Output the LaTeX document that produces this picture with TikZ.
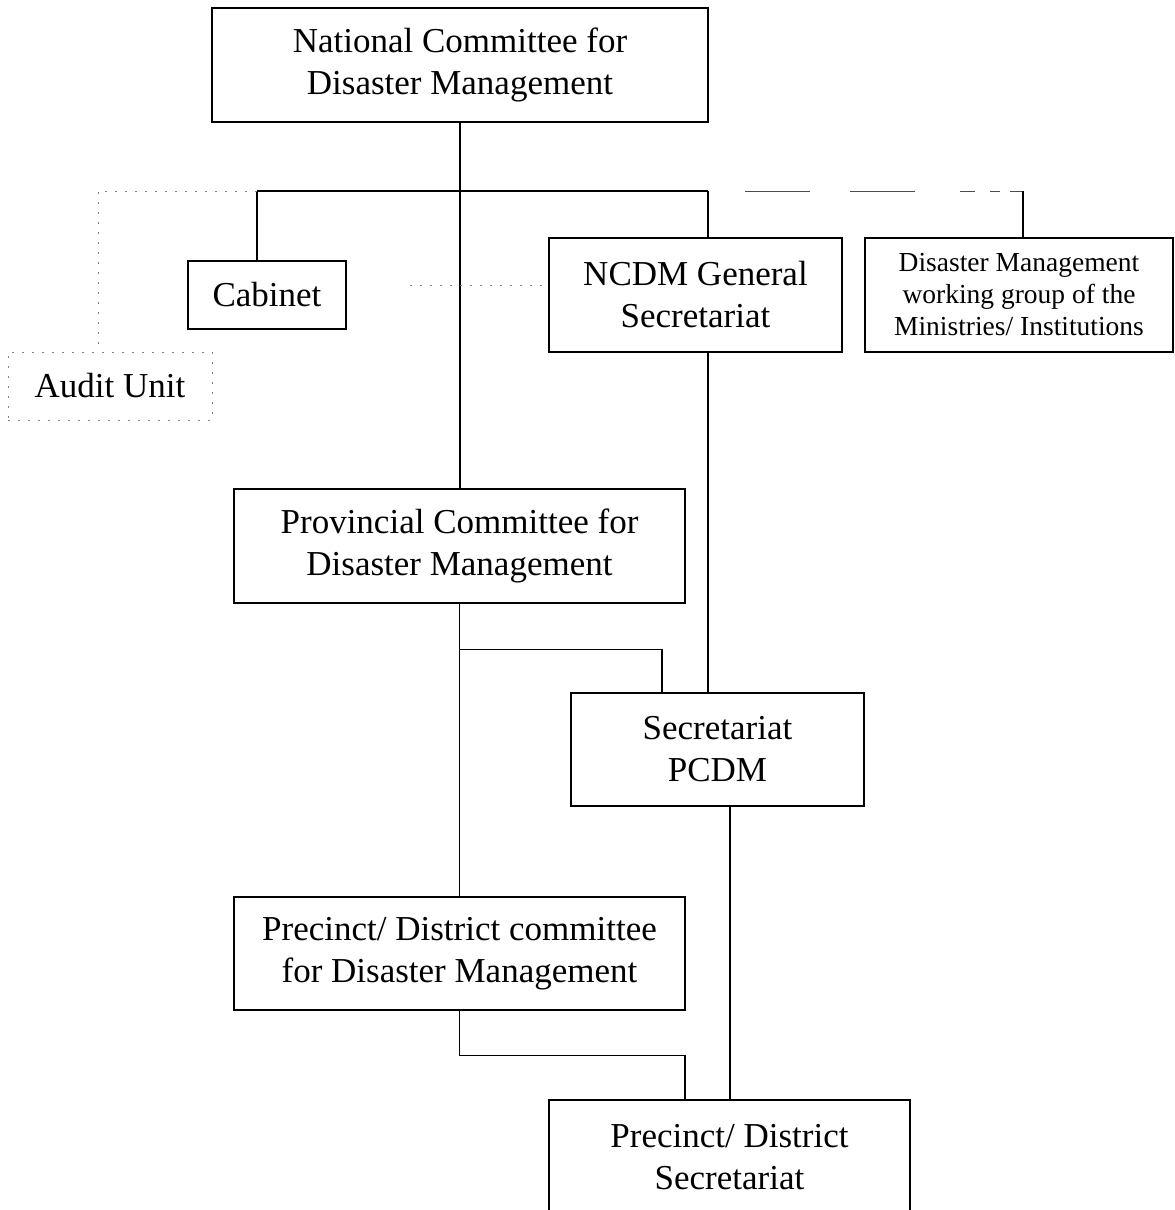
\documentclass[tikz,border=0pt]{standalone}
\usepackage{fontspec}
\setmainfont{Liberation Serif}
\begin{document}
\begin{tikzpicture}[x=1pt, y=-1pt,
    box/.style={rectangle, draw, line width=1.4pt, align=center, font=\fontsize{35}{42}\selectfont},
    smallbox/.style={rectangle, draw, line width=1.2pt, align=center, font=\fontsize{27.5}{32}\selectfont},
    auditbox/.style={rectangle, draw=gray, line width=1pt, dash pattern=on 2pt off 8pt, align=center, font=\fontsize{35}{42}\selectfont},
    link/.style={line width=1.3pt},
    mainlink/.style={line width=2pt},
    dotlink/.style={line width=1pt, gray, dash pattern=on 2pt off 8pt}
]
\useasboundingbox (0,0) rectangle (1175,1210);

\node[box, minimum width=496, minimum height=114] (ncdm) at (460,65) {National Committee for\\Disaster Management};

\node[box, minimum width=158, minimum height=68] (cabinet) at (267,295) {Cabinet};
\node[auditbox, minimum width=204, minimum height=68] (audit) at (110,386) {Audit Unit};
\node[box, minimum width=293, minimum height=114] (gensec) at (695.5,295) {NCDM General\\Secretariat};
\node[smallbox, minimum width=308, minimum height=114] (workgroup) at (1019,295) {Disaster Management\\working group of the\\Ministries/ Institutions};

\node[box, minimum width=451, minimum height=114] (pcdm) at (459.5,546) {Provincial Committee for\\Disaster Management};
\node[box, minimum width=293, minimum height=113] (secpcdm) at (717.5,749.5) {Secretariat\\PCDM};

\node[box, minimum width=451, minimum height=113] (dcdm) at (459.5,953.5) {Precinct/ District committee\\for Disaster Management};
\node[box, minimum width=361, minimum height=114] (dsec) at (729.5,1157) {Precinct/ District\\Secretariat};

% bus under the national committee
\coordinate (busL) at (257,191);
\coordinate (busC) at (460,191);
\coordinate (busG) at (708,191);
\coordinate (busR) at (1023,191);
\coordinate (auditL) at (98,191);
\coordinate (sideL) at (410,285);

\draw[link] (ncdm.south) -- (busC);
\draw[mainlink] (busL) -- (busG);
\draw[line width=1pt, gray!60!black, dash pattern=on 0pt off 37pt on 65pt off 40pt on 65pt off 45pt on 15pt off 15pt on 10pt off 10pt on 14pt] (busG) -- (busR);
\draw[link] (busL) -- (busL |- cabinet.north);
\draw[link] (busG) -- (busG |- gensec.north);
\draw[link] (busR) -- (busR |- workgroup.north);
\draw[mainlink] (busC) -- (busC |- pcdm.north);

\draw[dotlink] (busL) -- (auditL) -- (auditL |- audit.north);
\draw[dotlink] (sideL) -- (sideL -| gensec.west);

% secretariats
\draw[mainlink] (busG |- gensec.south) -- (busG |- secpcdm.north);
\draw[link] (pcdm.south) -- (dcdm.north);
\draw[link] (pcdm.south) ++(0,46) -| ([xshift=-55.5]secpcdm.north);
\draw[link] ([xshift=12.5]secpcdm.south) -- ([xshift=12.5]secpcdm.south |- dsec.north);
\draw[link] (dcdm.south) -- ++(0,45) -| ([xshift=-44.5]dsec.north);

\end{tikzpicture}
\end{document}
